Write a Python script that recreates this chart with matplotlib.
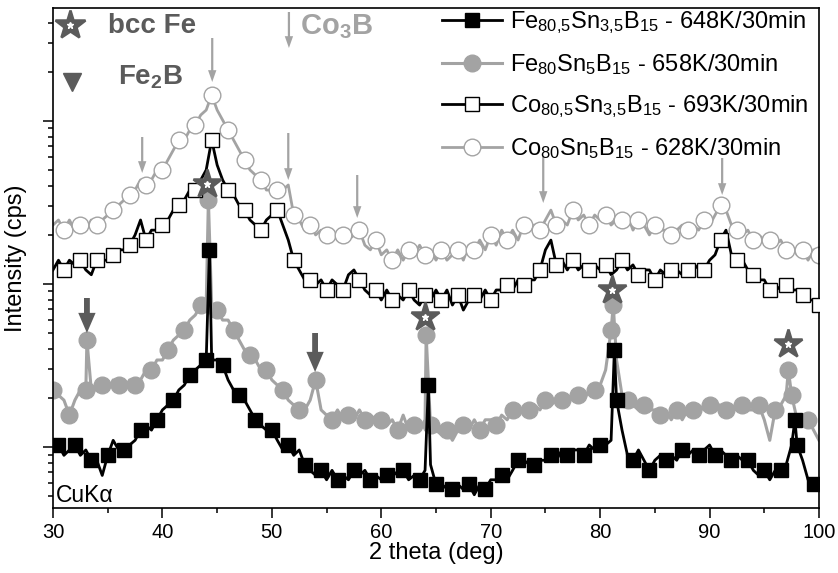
import numpy as np
import matplotlib
matplotlib.use('Agg')
import matplotlib.pyplot as plt
import matplotlib.transforms as mtransforms
from matplotlib.ticker import LogLocator, MultipleLocator, NullFormatter

plt.rcParams['font.family'] = ['Liberation Sans', 'DejaVu Sans']
plt.rcParams['mathtext.fontset'] = 'custom'
plt.rcParams['mathtext.rm'] = 'Liberation Sans'
plt.rcParams['mathtext.it'] = 'Liberation Sans:italic'
plt.rcParams['mathtext.bf'] = 'Liberation Sans:bold'

# ---------------- data (intensity in cps, 2theta grid 30..100 step 0.5) ----------------
two_theta = np.arange(30.0, 100.01, 0.5)

fe805 = [9.6, 10.3, 8.9, 9.6, 10.3, 8.9, 9.6, 8.3, 8.3, 6.7,
         8.9, 11.0, 9.6, 9.6, 10.3, 11.0, 12.7, 13.6, 12.7, 14.7,
         16.9, 18.1, 19.4, 22.4, 24.0, 27.7, 29.7, 31.8, 34.2, 34.2,
         34.2, 31.8, 25.8, 22.4, 20.8, 19.4, 16.9, 14.7, 13.6, 12.7,
         12.7, 11.0, 9.6, 10.3, 8.9, 9.6, 7.8, 7.2, 6.7, 7.2,
         6.3, 7.2, 6.3, 6.7, 6.3, 7.2, 6.7, 7.2, 6.3, 6.7,
         6.3, 6.7, 7.2, 6.7, 7.2, 6.3, 6.7, 6.3, 7.2, 7.8,
         5.9, 5.5, 5.9, 5.5, 5.9, 5.5, 5.9, 5.1, 5.9, 5.5,
         6.3, 6.3, 6.7, 6.3, 7.2, 8.3, 7.8, 8.3, 7.8, 8.3,
         8.3, 8.9, 8.3, 9.6, 8.9, 9.6, 9.6, 8.9, 10.3, 9.6,
         10.3, 10.3, 11.0, 19.4, 12.7, 8.9, 8.3, 9.6, 8.3, 7.2,
         8.3, 8.9, 8.3, 8.9, 8.3, 9.6, 8.9, 9.6, 8.9, 9.6,
         10.3, 8.9, 9.6, 8.9, 8.3, 8.9, 8.3, 8.3, 7.2, 6.7,
         7.2, 6.3, 7.2, 7.2, 7.8, 10.3, 10.3, 8.3, 6.3, 5.9,
         5.5]
fe805_peak_x = [44.3, 64.3, 81.3, 97.8]
fe805_peak_y = [162, 24.0, 39.4, 14.7]

fe80 = [22.4, 20.8, 19.4, 15.7, 19.4, 22.4, 22.4, 22.4, 22.4, 24.0,
        22.4, 25.8, 24.0, 22.4, 25.8, 24.0, 25.8, 29.7, 29.7, 34.2,
        34.2, 39.4, 45.3, 48.6, 52.2, 60.1, 64.5, 74.3, 74.3, 74.3,
        69.2, 60.1, 60.1, 52.2, 45.3, 39.4, 36.7, 34.2, 29.7, 29.7,
        25.8, 24.0, 22.4, 19.4, 18.1, 16.9, 16.9, 19.4, 25.8, 16.9,
        15.7, 14.7, 16.9, 14.7, 15.7, 14.7, 16.9, 14.7, 15.7, 14.7,
        14.7, 13.6, 14.7, 12.7, 15.7, 12.7, 13.6, 12.7, 14.7, 13.6,
        12.7, 11.9, 12.7, 11.0, 12.7, 13.6, 12.7, 14.7, 12.7, 14.7,
        14.7, 13.6, 15.7, 14.7, 16.9, 15.7, 16.9, 16.9, 18.1, 16.9,
        19.4, 18.1, 19.4, 19.4, 20.8, 19.4, 20.8, 19.4, 22.4, 22.4,
        24.0, 29.7, 52.2, 34.2, 20.8, 19.4, 18.1, 16.9, 18.1, 16.9,
        16.9, 15.7, 16.9, 14.7, 16.9, 14.7, 16.9, 16.9, 18.1, 16.9,
        18.1, 18.1, 18.1, 16.9, 18.1, 16.9, 18.1, 16.9, 16.9, 18.1,
        14.7, 11.0, 16.9, 18.1, 20.8, 20.8, 14.7, 13.6, 14.7, 12.7,
        11.0]
fe80_peak_x = [33.1, 44.2, 64.1, 81.2, 97.2]
fe80_peak_y = [45.3, 328, 48.6, 74.3, 29.7]

co805 = [122, 140, 122, 140, 131, 140, 122, 114, 140, 140,
         140, 151, 162, 162, 173, 200, 247, 186, 214, 214,
         230, 247, 284, 305, 328, 377, 377, 435, 501, 764,
         537, 435, 377, 352, 305, 284, 247, 230, 214, 247,
         265, 284, 230, 186, 140, 122, 106, 106, 98.6, 106,
         91.9, 106, 98.6, 91.9, 114, 122, 106, 91.9, 85.6, 91.9,
         79.8, 91.9, 79.8, 85.6, 79.8, 91.9, 79.8, 74.3, 85.6, 79.8,
         91.9, 79.8, 91.9, 74.3, 85.6, 69.2, 79.8, 85.6, 79.8, 91.9,
         79.8, 91.9, 91.9, 98.6, 91.9, 106, 98.6, 106, 106, 122,
         162, 186, 131, 140, 122, 140, 122, 131, 122, 131,
         122, 131, 114, 122, 140, 122, 131, 114, 122, 122,
         106, 122, 114, 122, 122, 114, 122, 122, 131, 122,
         140, 151, 186, 214, 151, 140, 140, 122, 114, 106,
         106, 91.9, 98.6, 91.9, 98.6, 91.9, 91.9, 85.6, 79.8, 79.8,
         74.3]

co80 = [230, 247, 214, 247, 214, 230, 214, 247, 230, 247,
        265, 284, 305, 328, 352, 377, 435, 405, 435, 501,
        501, 576, 664, 764, 764, 880, 945, 1088, 1167, 1444,
        1167, 1014, 880, 764, 664, 576, 501, 466, 435, 377,
        377, 377, 377, 405, 265, 247, 214, 230, 200, 214,
        200, 214, 186, 200, 186, 200, 214, 173, 162, 186,
        151, 162, 140, 162, 140, 162, 151, 173, 151, 162,
        140, 162, 140, 151, 162, 140, 173, 162, 186, 162,
        200, 173, 214, 186, 214, 186, 230, 214, 230, 214,
        247, 284, 230, 247, 230, 284, 247, 265, 230, 265,
        247, 265, 230, 247, 247, 265, 214, 247, 230, 200,
        230, 214, 214, 200, 214, 230, 214, 230, 214, 247,
        230, 265, 305, 284, 230, 214, 200, 214, 186, 200,
        186, 186, 173, 186, 162, 173, 151, 162, 140, 162,
        151]

labels = [r'Fe$_{80{,}5}$Sn$_{3{,}5}$B$_{15}$ - 648K/30min',
          r'Fe$_{80}$Sn$_{5}$B$_{15}$ - 658K/30min',
          r'Co$_{80{,}5}$Sn$_{3{,}5}$B$_{15}$ - 693K/30min',
          r'Co$_{80}$Sn$_{5}$B$_{15}$ - 628K/30min']

# phase markers
bccfe_x = [44.1, 64.0, 81.1, 97.2]
bccfe_y = [410, 63, 92, 43]
fe2b_arrow_x = [33.1, 53.95]
fe2b_arrow_top = [0.42, 0.35]      # axes fraction
fe2b_arrow_tip = [0.35, 0.272]
co3b_arrow_x = [38.15, 44.55, 51.5, 57.8, 74.8, 91.15]
co3b_arrow_top = [0.742, 0.940, 0.750, 0.666, 0.702, 0.700]
co3b_arrow_tip = [0.670, 0.852, 0.656, 0.580, 0.610, 0.626]

DARK = '#5b5b5b'
GRAY = '#a3a3a3'


def build(values, peak_x=(), peak_y=(), offset=0):
    x = np.concatenate([two_theta, np.asarray(peak_x, float)])
    y = np.concatenate([np.asarray(values, float), np.asarray(peak_y, float)])
    gm = np.zeros(len(two_theta), bool)
    gm[offset::3] = True
    mark = np.concatenate([gm, np.ones(len(peak_x), bool)])
    order = np.argsort(x, kind='stable')
    return x[order], y[order], mark[order]


fig = plt.figure(figsize=(8.38, 5.73), dpi=100)
ax = fig.add_axes([53 / 838, 65 / 573, 766 / 838, 500 / 573])

xa, ya, ma = build(fe805, fe805_peak_x, fe805_peak_y, 1)
ax.plot(xa, ya, color='black', lw=2.0, marker='s', ms=9.5, mfc='black', mec='black',
        markevery=list(ma), label=labels[0], zorder=3)
xb, yb, mb = build(fe80, fe80_peak_x, fe80_peak_y, 0)
ax.plot(xb, yb, color=GRAY, lw=2.2, marker='o', ms=12, mfc=GRAY, mec=GRAY,
        markevery=list(mb), label=labels[1], zorder=2)
xc, yc, mc = build(co805, offset=2)
ax.plot(xc, yc, color='black', lw=2.0, marker='s', ms=10, mfc='white', mec='black', mew=1.0,
        markevery=list(mc), label=labels[2], zorder=3)
xd, yd, md = build(co80, offset=2)
ax.plot(xd, yd, color=GRAY, lw=2.0, marker='o', ms=12, mfc='white', mec=GRAY, mew=1.0,
        markevery=list(md), label=labels[3], zorder=2)

ax.set_yscale('log')
ax.set_xlim(30, 100)
ax.set_ylim(4.23, 4930)

ax.xaxis.set_major_locator(MultipleLocator(10))
ax.xaxis.set_minor_locator(MultipleLocator(5))
ax.yaxis.set_major_locator(LogLocator(base=10, numticks=10))
ax.yaxis.set_minor_locator(LogLocator(base=10, subs=np.arange(2, 10), numticks=20))
ax.yaxis.set_major_formatter(NullFormatter())
ax.yaxis.set_minor_formatter(NullFormatter())
ax.tick_params(which='both', direction='out', top=False, right=False, width=1.1, labelsize=14.5)
ax.tick_params(which='major', length=7)
ax.tick_params(which='minor', length=3.8)
for s in ax.spines.values():
    s.set_linewidth(1.2)

ax.set_xlabel('2 theta (deg)', fontsize=17, labelpad=0)
ax.set_ylabel('Intensity (cps)', fontsize=17, labelpad=8)

trans = mtransforms.blended_transform_factory(ax.transData, ax.transAxes)

# bcc Fe stars
ax.plot(bccfe_x, bccfe_y, ls='none', marker='*', ms=21, color=DARK, mec=DARK, mew=1.8, zorder=5)
ax.plot(bccfe_x, bccfe_y, ls='none', marker='*', ms=5, color='white', mec='white', zorder=6)

# Fe2B arrows
for x, y0, y1 in zip(fe2b_arrow_x, fe2b_arrow_top, fe2b_arrow_tip):
    ax.annotate('', xy=(x, y1), xytext=(x, y0), xycoords=trans, textcoords=trans,
                arrowprops=dict(arrowstyle='simple,head_length=1.45,head_width=1.25,tail_width=0.42',
                                mutation_scale=10, color=DARK, lw=0, shrinkA=0, shrinkB=0), zorder=5)
# Co3B arrows
for x, y0, y1 in zip(co3b_arrow_x, co3b_arrow_top, co3b_arrow_tip):
    ax.annotate('', xy=(x, y1), xytext=(x, y0), xycoords=trans, textcoords=trans,
                arrowprops=dict(arrowstyle='simple,head_length=0.85,head_width=0.6,tail_width=0.16',
                                mutation_scale=10, color=GRAY, lw=0, shrinkA=0, shrinkB=0), zorder=5)

# phase key (top-left)
ax.plot([0.022], [0.966], transform=ax.transAxes, marker='*', ms=22, color=DARK, mec=DARK,
        mew=1.8, clip_on=False, zorder=6)
ax.plot([0.022], [0.966], transform=ax.transAxes, marker='*', ms=5, color='white', mec='white',
        clip_on=False, zorder=7)
ax.text(0.072, 0.964, 'bcc Fe', transform=ax.transAxes, fontsize=20, fontweight='bold',
        color=DARK, ha='left', va='center')
ax.plot([0.025], [0.852], transform=ax.transAxes, marker='v', ms=13, color=DARK, clip_on=False)
ax.text(0.085, 0.862, r'Fe$_\mathbf{2}$B', transform=ax.transAxes, fontsize=20, fontweight='bold',
        color=DARK, ha='left', va='center')
ax.annotate('', xy=(0.308, 0.92), xytext=(0.308, 0.992), xycoords='axes fraction',
            arrowprops=dict(arrowstyle='simple,head_length=0.85,head_width=0.6,tail_width=0.16',
                            mutation_scale=10, color=GRAY, lw=0, shrinkA=0, shrinkB=0))
ax.text(0.322, 0.962, r'Co$_\mathbf{3}$B', transform=ax.transAxes, fontsize=21, fontweight='bold',
        color=GRAY, ha='left', va='center')

ax.text(0.004, 0.026, 'CuKα', transform=ax.transAxes, fontsize=16.5, ha='left', va='center')

ax.legend(loc='upper left', bbox_to_anchor=(0.505, 1.002), frameon=False, fontsize=17,
          borderaxespad=0, borderpad=0.1, handlelength=2.55, handletextpad=0.34,
          labelspacing=0.68, numpoints=1)

fig.savefig('out.png', dpi=100)
